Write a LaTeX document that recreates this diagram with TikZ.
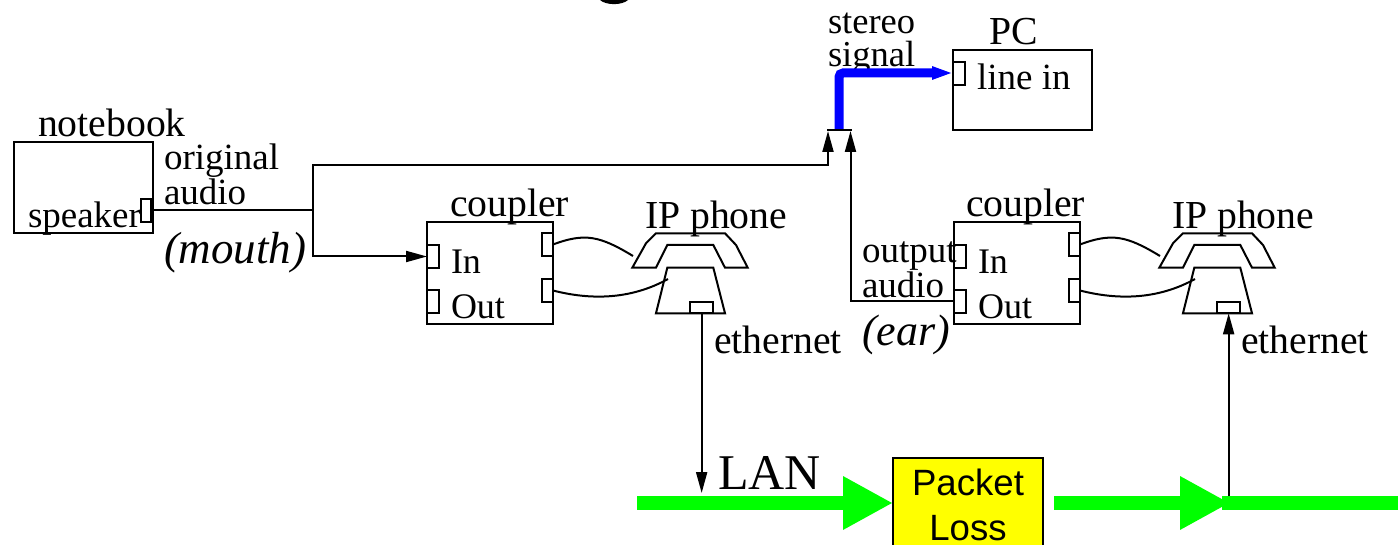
\documentclass[tikz,border=0pt]{standalone}
\usepackage{fontspec}
\setmainfont{Liberation Serif}
\setsansfont{Liberation Sans}
\usetikzlibrary{arrows.meta}
\definecolor{lanGreen}{HTML}{00FF00}
\definecolor{lossYellow}{HTML}{FFFF00}
\definecolor{stereoBlue}{HTML}{0000FF}
\newcommand{\fs}[1]{\fontsize{#1}{#1}\selectfont}
\tikzset{
  box/.style={draw=black,line width=2pt,rectangle,inner sep=0pt,outer sep=0pt,anchor=north west,fill=none},
  port/.style={box},
  lbl/.style={inner sep=0pt,outer sep=0pt,anchor=base west,font=\fs{37},yshift=-1.5pt},
  big/.style={lbl,font=\fs{39.7}},
  wire/.style={line width=2pt,black},
  thin tip/.style={-{Triangle[length=21pt,width=11pt]}},
  lan/.style={line width=14pt,lanGreen},
  lan tip/.style={-{Triangle[length=50pt,width=50pt]}},
  handset/.style={line width=2pt,black,line join=miter},
}
% #1 prefix, #2 horizontal offset, #3 x of the coupler label within the station
\newcommand{\station}[3]{%
  \begin{scope}[shift={(#2,0)}]
    \node[box,minimum width=126pt,minimum height=102pt] (#1coupler) at (427,222) {};
    \node[port,minimum width=12pt,minimum height=23pt] (#1in) at (427,245) {};
    \node[port,minimum width=12pt,minimum height=23pt] (#1out) at (427,290) {};
    \node[port,minimum width=11pt,minimum height=23pt] (#1ra) at (542,233) {};
    \node[port,minimum width=11pt,minimum height=23pt] (#1rb) at (542,279) {};
    \node[big] (#1couplertxt) at (#3,215) {coupler};
    \node[big] (#1phonetxt) at (645,227) {IP phone};
    \node[lbl,font=\fs{36}] (#1intxt) at (451,272) {In};
    \node[lbl,font=\fs{36}] (#1outtxt) at (451,317) {Out};
    \node[big] (#1ethtxt) at (714,352) {ethernet};
    \draw[handset] (632.3,267.7) -- (646,243.3) -- (656,233.3) -- (725,233.3) -- (736,245) -- (747.7,267.7) -- (725,267.7) -- (713.3,245) -- (667.3,245) -- (656,267.7) -- cycle;
    \draw[handset] (667.3,267.7) -- (713.3,267.7) -- (725,313.3) -- (656,313.3) -- cycle;
    \node[port,minimum width=23.3pt,minimum height=11.6pt] (#1eth) at (690,301.7) {};
    \coordinate (#1hand) at (633,256);
    \coordinate (#1base) at (668,279);
    \draw[wire] (#1ra.east) .. controls +(32,-12) and +(-33,-20) .. (#1hand);
    \draw[wire] (#1rb.east) .. controls +(37,9.5) and +(-38,21) .. (#1base);
  \end{scope}
}
\begin{document}
\begin{tikzpicture}[x=1pt,y=-1pt]
  \path[use as bounding box,clip] (0,0) rectangle (1398,545);
  % clipped descender at the top edge
  \fill[black] (600,0) .. controls (606,5.5) and (622,5.5) .. (628,0) -- cycle;

  % notebook
  \node[box,minimum width=139pt,minimum height=91pt] (notebook) at (14,142) {};
  \node[port,minimum width=10pt,minimum height=23pt] (speaker) at (141,199) {};
  \node[big] (notebooktxt) at (38,135) {notebook};
  \node[lbl] (speakertxt) at (28,226) {speaker};
  \node[lbl] (origtxt) at (164,168) {original};
  \node[lbl] (audiotxt) at (164,203) {audio};
  \node[lbl,font=\fs{45}\itshape] (mouthtxt) at (164,262) {(mouth)};

  % stations
  \station{a}{0}{450}
  \station{b}{527}{439}

  % PC
  \node[box,minimum width=139pt,minimum height=80pt] (pc) at (953,50) {};
  \node[port,minimum width=12pt,minimum height=23pt] (linein) at (953,62) {};
  \node[big] (pctxt) at (989,43) {PC};
  \node[lbl] (lineintxt) at (977,88) {line in};
  \node[lbl,font=\fs{36.5}] (stereotxt) at (828,32) {stereo};
  \node[lbl,font=\fs{36.5}] (signaltxt) at (828,65) {signal};

  % mixer bar
  \coordinate (barL) at (827,130);
  \coordinate (barR) at (852,130);
  \coordinate (barM) at (839,130);
  \draw[stereoBlue,line width=9pt,rounded corners=4pt,-{Triangle[length=21pt,width=12pt]}] (barM) |- (linein.west |- 0,73);
  \draw[wire] (barL) -- (barR);

  % audio wiring
  \coordinate (junction) at (313,210.5);
  \draw[wire] (speaker.east |- junction) -- (junction);
  \draw[wire,thin tip] (junction) |- (828,165) -- (828,131);
  \draw[wire,thin tip] (junction) |- (ain.west);
  \draw[wire,thin tip] (bout.west) -| (850.5,131);
  \node[lbl] (outputtxt) at (862,261) {output};
  \node[lbl] (audiotwotxt) at (862,296) {audio};
  \node[lbl,font=\fs{44}\itshape] (eartxt) at (862,344) {(ear)};

  % LAN
  \coordinate (lanA) at (637,503);
  \coordinate (lanB) at (1054,503);
  \coordinate (lanM) at (1230,503);
  \coordinate (lanC) at (1398,503);
  \node[box,fill=lossYellow,minimum width=150pt,minimum height=120pt] (loss) at (893,458) {};
  \node[inner sep=0pt,anchor=base,font=\sffamily\fs{36.6}] (packettxt) at (968,495) {Packet};
  \node[inner sep=0pt,anchor=base,font=\sffamily\fs{36.6}] (losstxt) at (968,540) {Loss};
  \draw[lan,lan tip] (lanA) -- (lanA -| loss.west);
  \draw[lan,lan tip] (lanB) -- (lanM);
  \draw[lan] (1222,503) -- (lanC);
  \node[lbl,font=\fs{50}] (lantxt) at (718,488) {LAN};
  \draw[wire,thin tip] (aeth.south) -- (aeth.south |- 0,493);
  \draw[wire,thin tip] (beth.south |- 0,496) -- (beth.south);
\end{tikzpicture}
\end{document}
